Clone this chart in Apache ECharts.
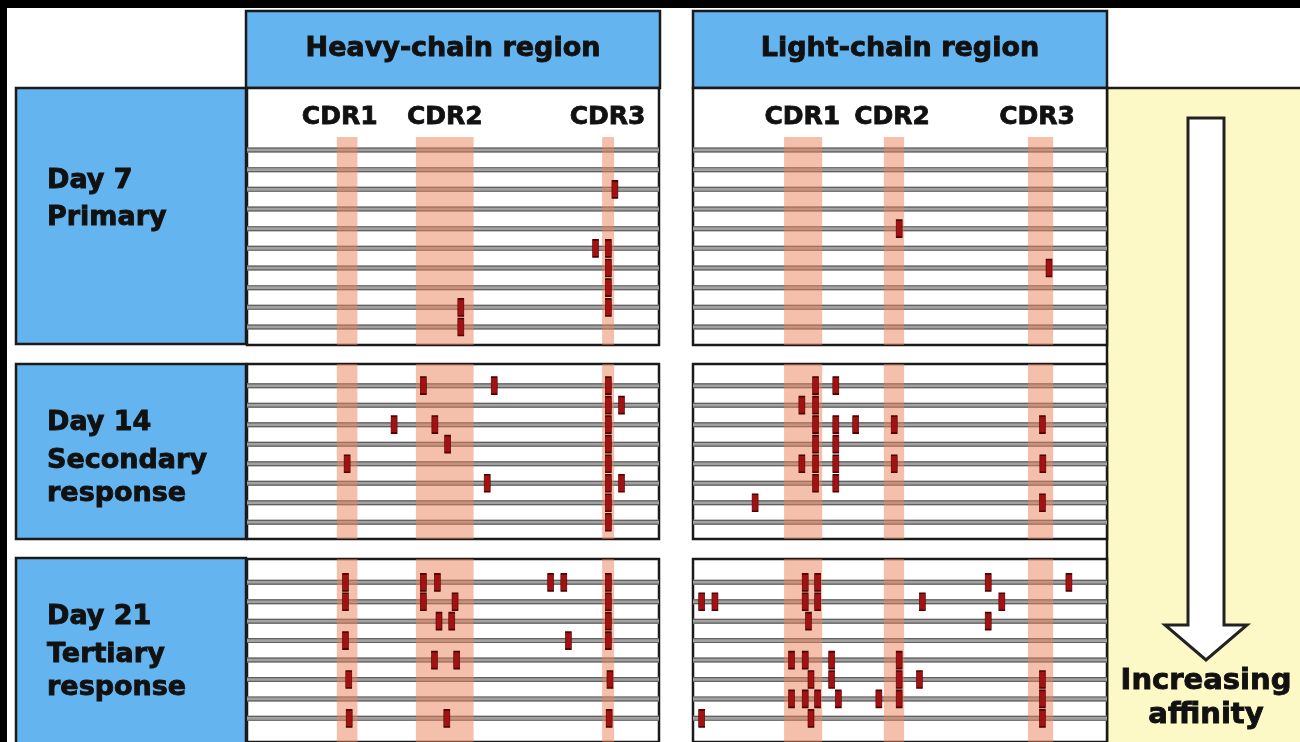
<!DOCTYPE html>
<html>
<head>
<meta charset="utf-8">
<script src="https://cdn.jsdelivr.net/npm/echarts@6/dist/echarts.min.js"></script>
<style>html,body{margin:0;padding:0;background:#fff}#c{width:1300px;height:742px}</style>
</head>
<body>
<div id="c"></div>
<script>
// ---- data: CDR band extents along the V region (0-100 sequence scale) ----
const heavyBands = [[21.8, 26.8], [41.0, 55.0], [86.2, 89.1]];
const lightBands = [[22.0, 31.2], [46.1, 51.0], [80.9, 87.0]];
const cdrNames = ['CDR1', 'CDR2', 'CDR3'];
const heavyLabelPos = [22.5, 48.0, 87.5];
const lightLabelPos = [26.4, 48.1, 83.1];

// ---- data: sequenced clones (rows) per day ----
const rowsDay7 = [1, 2, 3, 4, 5, 6, 7, 8, 9, 10];
const rowsDay14 = [1, 2, 3, 4, 5, 6, 7, 8];
const rowsDay21 = [1, 2, 3, 4, 5, 6, 7, 8];

// ---- data: mutations as [clone row, position along sequence] ----
const heavyDay7 = [[3,89.3],[6,84.6],[6,87.7],[7,87.7],[8,87.7],[9,87.7],[9,51.9],[10,51.9]];
const lightDay7 = [[5,49.8],[7,86.0]];
const heavyDay14 = [[1,42.8],[1,60.0],[1,87.7],[2,87.7],[2,90.9],[3,35.7],[3,45.6],[3,87.7],[4,48.7],[4,87.7],[5,24.3],[5,87.7],[6,58.3],[6,87.7],[6,90.9],[7,87.7],[8,87.7]];
const lightDay14 = [[1,29.6],[1,34.5],[2,26.3],[2,29.6],[3,29.6],[3,34.5],[3,39.3],[3,48.6],[3,84.4],[4,29.6],[4,34.5],[5,26.3],[5,29.6],[5,34.5],[5,48.6],[5,84.5],[6,29.6],[6,34.5],[7,15.0],[7,84.4]];
const heavyDay21 = [[1,23.9],[1,42.8],[1,46.2],[1,73.7],[1,76.9],[1,87.7],[2,23.9],[2,42.8],[2,50.5],[2,87.7],[3,46.6],[3,49.7],[3,87.7],[4,23.9],[4,78.0],[4,87.7],[5,45.5],[5,50.9],[6,24.7],[6,88.1],[8,24.8],[8,48.5],[8,87.9]];
const lightDay21 = [[1,27.1],[1,30.1],[1,71.3],[1,90.8],[2,2.1],[2,5.3],[2,27.1],[2,30.1],[2,55.4],[2,74.6],[3,27.9],[3,71.3],[5,23.8],[5,27.1],[5,33.5],[5,49.8],[6,28.5],[6,33.5],[6,49.8],[6,54.7],[6,84.4],[7,23.8],[7,27.1],[7,30.1],[7,35.1],[7,44.9],[7,49.8],[7,84.4],[8,2.1],[8,28.5],[8,84.4]];

// ---- text ----
const dayLabels = [['Day 7', 'Primary'], ['Day 14', 'Secondary', 'response'], ['Day 21', 'Tertiary', 'response']];
const headerTexts = ['Heavy-chain region', 'Light-chain region'];
const affinityText = ['Increasing', 'affinity'];

// ---- layout ----
const FONT = '"DejaVu Sans", "Noto Sans", sans-serif';
const INK = '#111111';
const panels = [
  {left:247, top:88,  width:412, height:257, yMin:-2.152, yMax:10.915, bandTop:0.34, rows:rowsDay7,  bands:heavyBands, muts:heavyDay7,  labels:heavyLabelPos},
  {left:693, top:88,  width:414, height:257, yMin:-2.152, yMax:10.915, bandTop:0.34, rows:rowsDay7,  bands:lightBands, muts:lightDay7,  labels:lightLabelPos},
  {left:247, top:364, width:412, height:175, yMin:-0.113, yMax:8.86,  bandTop:-0.113, rows:rowsDay14, bands:heavyBands, muts:heavyDay14},
  {left:693, top:364, width:414, height:175, yMin:-0.113, yMax:8.86,  bandTop:-0.113, rows:rowsDay14, bands:lightBands, muts:lightDay14},
  {left:247, top:559, width:412, height:183, yMin:-0.2,   yMax:9.218, bandTop:-0.2, rows:rowsDay21, bands:heavyBands, muts:heavyDay21},
  {left:693, top:559, width:414, height:183, yMin:-0.2,   yMax:9.218, bandTop:-0.2, rows:rowsDay21, bands:lightBands, muts:lightDay21}
];

const grid = [], xAxis = [], yAxis = [], series = [];
panels.forEach((p, i) => {
  grid.push({left:p.left, top:p.top, width:p.width, height:p.height, show:true,
    backgroundColor:'#ffffff', borderColor:'#1a1a1a', borderWidth:2.5, z:1});
  xAxis.push({type:'value', gridIndex:i, min:0, max:100, show:false});
  yAxis.push({type:'value', gridIndex:i, min:p.yMin, max:p.yMax, inverse:true, show:false});
  // clone lines
  series.push({type:'custom', xAxisIndex:i, yAxisIndex:i, z:2, silent:true,
    data:p.rows.map(r => [0, r]),
    renderItem:(params, api) => {
      const r = api.value(1);
      const a = api.coord([0, r]), b = api.coord([100, r]);
      return {type:'group', children:[
        {type:'rect', shape:{x:a[0], y:a[1]-2.5, width:b[0]-a[0], height:5}, style:{fill:'#a2a2a2'}},
        {type:'rect', shape:{x:a[0], y:a[1]-2.5, width:b[0]-a[0], height:1.2}, style:{fill:'#606060'}},
        {type:'rect', shape:{x:a[0], y:a[1]+1.3, width:b[0]-a[0], height:1.2}, style:{fill:'#606060'}}
      ]};
    }});
  // CDR bands
  series.push({type:'custom', xAxisIndex:i, yAxisIndex:i, z:3, silent:true,
    data:p.bands.map(b => [b[0], b[1]]),
    renderItem:(params, api) => {
      const a = api.coord([api.value(0), p.bandTop]);
      const b = api.coord([api.value(1), p.yMax]);
      return {type:'rect', shape:{x:a[0], y:a[1], width:b[0]-a[0], height:b[1]-a[1]},
        style:{fill:'rgba(234,128,88,0.5)'}};
    }});
  // mutations
  series.push({type:'scatter', xAxisIndex:i, yAxisIndex:i, z:4, silent:true,
    symbol:'rect', symbolSize:[6, 17],
    itemStyle:{color:'#a31212', borderColor:'#4d0000', borderWidth:1, opacity:1},
    data:p.muts.map(m => [m[1], m[0]])});
  // CDR labels
  if (p.labels) {
    series.push({type:'scatter', xAxisIndex:i, yAxisIndex:i, z:5, silent:true,
      symbolSize:0.1, itemStyle:{color:'rgba(0,0,0,0)'},
      label:{show:true, position:'inside', formatter:(d) => d.value[2], opacity:1,
        color:INK, fontFamily:FONT, fontWeight:'bold', fontSize:25,
        textBorderColor:INK, textBorderWidth:0.8},
      data:p.labels.map((x, k) => [x, -0.675, cdrNames[k]])});
  }
});

function txt(t, x, y, size, align) {
  return {type:'text', z:20, style:{text:t, x:x, y:y, textAlign:align, textVerticalAlign:'middle',
    font:'bold ' + size + 'px ' + FONT, fill:INK, stroke:INK, lineWidth:0.9}};
}

const blue = '#64b5ef';
const graphic = [
  {type:'rect', shape:{x:0, y:0, width:1300, height:8}, style:{fill:'#000'}, z:-10},
  {type:'rect', shape:{x:0, y:0, width:7, height:742}, style:{fill:'#000'}, z:-10},
  // headers
  {type:'rect', shape:{x:246, y:11, width:414, height:77}, style:{fill:blue, stroke:'#1a1a1a', lineWidth:2.5}},
  {type:'rect', shape:{x:693, y:11, width:414, height:77}, style:{fill:blue, stroke:'#1a1a1a', lineWidth:2.5}},
  txt(headerTexts[0], 453, 49, 27, 'center'),
  txt(headerTexts[1], 900, 49, 27, 'center'),
  // day boxes
  {type:'rect', shape:{x:16, y:88, width:230, height:256}, style:{fill:blue, stroke:'#1a1a1a', lineWidth:2.5}},
  {type:'rect', shape:{x:16, y:364, width:230, height:175}, style:{fill:blue, stroke:'#1a1a1a', lineWidth:2.5}},
  {type:'rect', shape:{x:16, y:558, width:230, height:200}, style:{fill:blue, stroke:'#1a1a1a', lineWidth:2.5}},
  // affinity panel
  {type:'rect', shape:{x:1107, y:88, width:200, height:670}, style:{fill:'#fdf9c6', stroke:'#1a1a1a', lineWidth:2.5}},
  {type:'polygon', z:10, shape:{points:[[1188,118],[1224,118],[1224,625],[1247,625],[1206,660],[1165,625],[1188,625]]},
    style:{fill:'#ffffff', stroke:'#222', lineWidth:3}},
  txt(affinityText[0], 1206, 681, 29, 'center'),
  txt(affinityText[1], 1206, 715, 29, 'center')
];
const dayTop = [[181, 218], [423, 461, 494], [617, 655, 688]];
dayLabels.forEach((lines, d) => {
  lines.forEach((t, k) => { graphic.push(txt(t, 47, dayTop[d][k], 27, 'left')); });
});

const chart = echarts.init(document.getElementById('c'), null, {renderer:'canvas'});
chart.setOption({
  animation:false,
  backgroundColor:'#ffffff',
  grid, xAxis, yAxis, series, graphic
});
</script>
</body>
</html>
